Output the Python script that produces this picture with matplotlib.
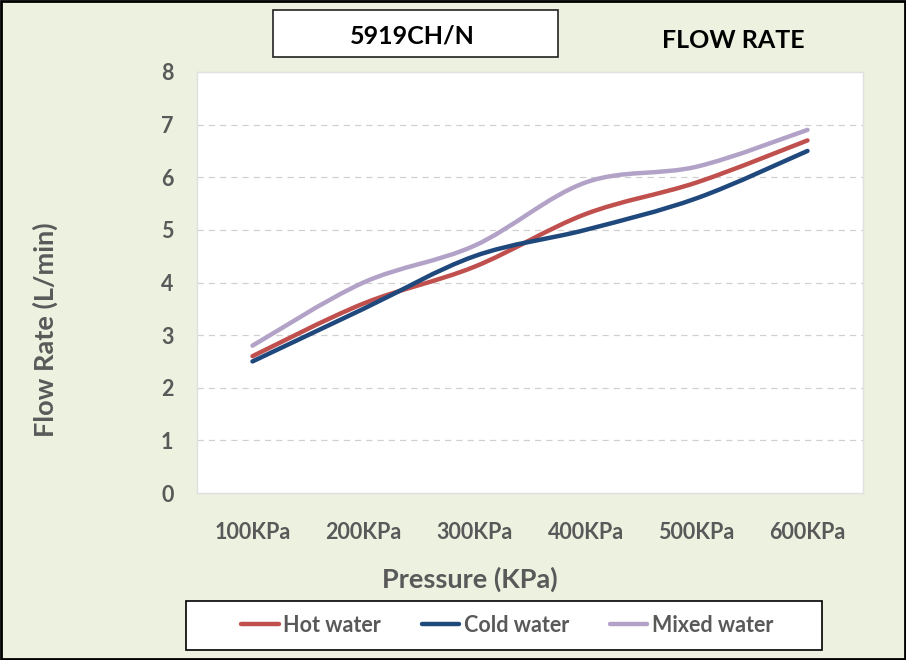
import numpy as np
import matplotlib.pyplot as plt
from matplotlib.path import Path
from matplotlib.patches import PathPatch, Rectangle
from matplotlib.lines import Line2D

# Data
pressures = ['100KPa', '200KPa', '300KPa', '400KPa', '500KPa', '600KPa']
hot_water = [2.6, 3.6, 4.3, 5.3, 5.9, 6.7]
cold_water = [2.5, 3.5, 4.5, 5.0, 5.6, 6.5]
mixed_water = [2.8, 4.0, 4.7, 5.9, 6.2, 6.9]

series = [('Hot water', hot_water, '#C0504D'),
          ('Cold water', cold_water, '#1F497D'),
          ('Mixed water', mixed_water, '#B3A2C7')]

plt.rcParams['font.family'] = ['Lato', 'DejaVu Sans']
gray = '#595959'
bg = '#ECF1E0'


def smooth_path(xs, ys):
    # Excel-style smoothed line: cubic bezier through the points
    pts = np.column_stack([xs, ys]).astype(float)
    n = len(pts)
    verts = [pts[0]]
    codes = [Path.MOVETO]
    for i in range(n - 1):
        p0 = pts[i - 1] if i > 0 else pts[i]
        p1 = pts[i]
        p2 = pts[i + 1]
        p3 = pts[i + 2] if i + 2 < n else pts[i + 1]
        c1 = p1 + (p2 - p0) / 6.0
        c2 = p2 - (p3 - p1) / 6.0
        verts += [c1, c2, p2]
        codes += [Path.CURVE4] * 3
    return Path(verts, codes)


fig = plt.figure(figsize=(9.06, 6.6), dpi=100, facecolor=bg)
ax = fig.add_axes([197 / 906, 1 - 493 / 660, 666 / 906, 421 / 660])
ax.set_facecolor('white')

x = np.arange(len(pressures))
for name, vals, color in series:
    patch = PathPatch(smooth_path(x, vals), facecolor='none', edgecolor=color,
                      lw=3.2, capstyle='round', joinstyle='round')
    ax.add_patch(patch)

ax.set_xlim(-0.5, len(pressures) - 0.5)
ax.set_ylim(0, 8)
ax.set_xticks(x)
ax.set_xticklabels(pressures)
ax.set_yticks(range(0, 9))
ax.tick_params(length=0, labelsize=15.5, labelcolor=gray)
for lbl in ax.get_xticklabels() + ax.get_yticklabels():
    lbl.set_fontweight('bold')
ax.tick_params(axis='x', pad=21)
ax.tick_params(axis='y', pad=17)
for y in range(1, 8):
    ax.axhline(y, color='#D0D0D0', lw=0.9, ls=(0, (5, 4)), zorder=0)
for s in ax.spines.values():
    s.set_color('#E0E0E0')
    s.set_linewidth(1)

fig.text(45 / 906, 1 - 330 / 660, 'Flow Rate (L/min)', rotation=90, ha='center', va='center',
         fontsize=19.5, fontweight='bold', color=gray)
fig.text(470 / 906, 1 - 579 / 660, 'Pressure (KPa)', ha='center', va='center',
         fontsize=19.5, fontweight='bold', color=gray)

# title box
fig.patches.append(Rectangle((273 / 906, 1 - 57 / 660), 285 / 906, 47 / 660,
                             transform=fig.transFigure, facecolor='white',
                             edgecolor='#222222', lw=1.2))
fig.text(412 / 906, 1 - 36 / 660, '5919CH/N', ha='center', va='center',
         fontsize=18, fontweight='bold', color='black')
fig.text(733 / 906, 1 - 40 / 660, 'FLOW RATE', ha='center', va='center',
         fontsize=18, fontweight='bold', color='black')

# legend box drawn by hand, legend entries inside
fig.patches.append(Rectangle((186 / 906, 1 - 650 / 660), 636 / 906, 49 / 660,
                             transform=fig.transFigure, facecolor='white',
                             edgecolor='black', lw=1.2))
handles = [Line2D([], [], color=c, lw=3.2, solid_capstyle='round') for _, _, c in series]
labels = [n for n, _, _ in series]
leg = fig.legend(handles, labels, loc='center', ncol=3,
                 bbox_to_anchor=(507 / 906, 1 - 625 / 660), frameon=False,
                 fontsize=15.5, handlelength=1.75, handletextpad=0.2,
                 columnspacing=1.9)
for t in leg.get_texts():
    t.set_color(gray)
    t.set_fontweight('bold')

# outer border
fig.patches.append(Rectangle((0.001, 0.001), 0.998, 0.998, transform=fig.transFigure,
                             facecolor='none', edgecolor='black', lw=2))

fig.savefig('out.png', dpi=100, facecolor=bg)
